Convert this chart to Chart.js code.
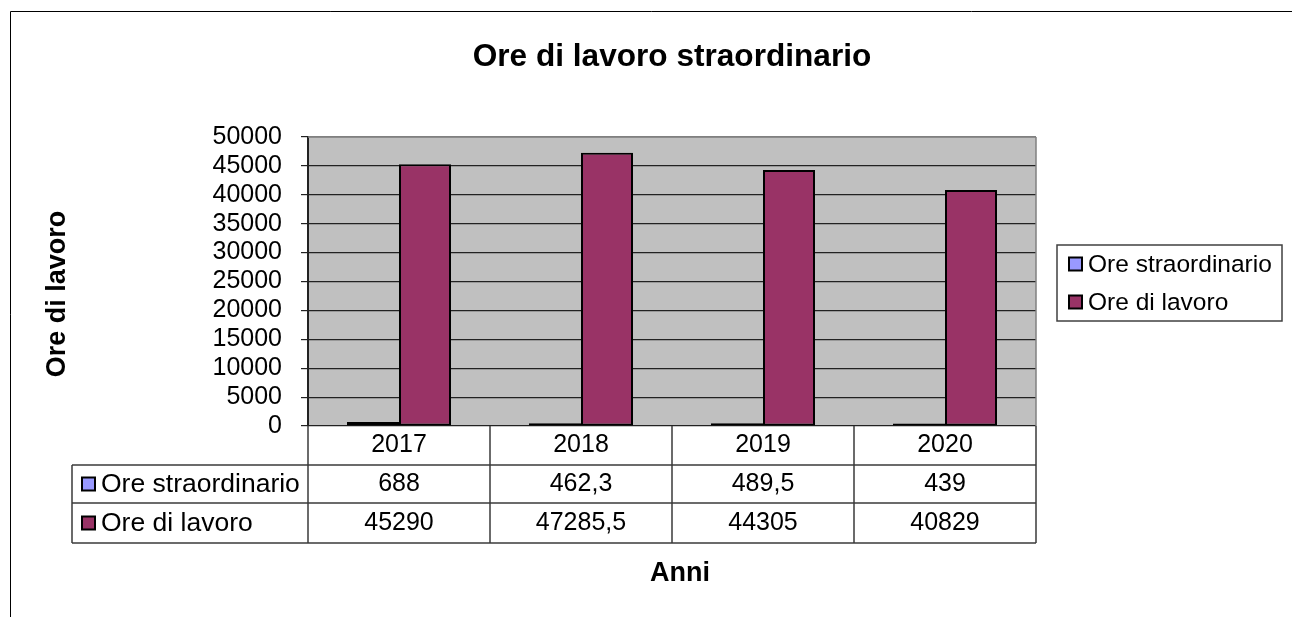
<!DOCTYPE html>
<html lang="it">
<head>
<meta charset="utf-8">
<title>Ore di lavoro straordinario</title>
<script src="https://cdn.jsdelivr.net/npm/chart.js@4.4.1/dist/chart.umd.min.js"></script>
<style>
  html, body { margin: 0; padding: 0; background: #fff; }
  canvas { display: block; }
</style>
</head>
<body>
<canvas id="grafico" width="1292" height="617"></canvas>
<script>
// ── Dati ──────────────────────────────────────────────────────────────
const anni             = ["2017", "2018", "2019", "2020"];
const oreStraordinario = [688, 462.3, 489.5, 439];
const oreLavoro        = [45290, 47285.5, 44305, 40829];
const nomiSerie        = ["Ore straordinario", "Ore di lavoro"];
const asseY            = { min: 0, max: 50000, passo: 5000 };

// ── Stile (tipo Excel 2003) ───────────────────────────────────────────
const FONT     = "'Liberation Sans', Arial, sans-serif";
const C_STRAO  = "#9999FF";
const C_LAVORO = "#993366";
const C_SFONDO = "#C0C0C0";
const C_LINEE  = "#3A3A3A";

// il numero si scrive con la virgola decimale
const fmt = v => String(v).replace(".", ",");

function riquadro(ctx, x, y, colore) {
  ctx.fillStyle = colore;
  ctx.fillRect(x, y, 13, 13);
  ctx.strokeStyle = "#000";
  ctx.lineWidth = 2;
  ctx.strokeRect(x, y, 13, 13);
}

function linea(ctx, x1, y1, x2, y2) {
  ctx.beginPath();
  ctx.moveTo(x1, y1);
  ctx.lineTo(x2, y2);
  ctx.stroke();
}

// ── Plugin: sfondo area del grafico, cornici, titoli, tabella, legenda ─
const decorazioni = {
  id: "decorazioni",
  beforeDraw(chart) {
    const { ctx, chartArea: a } = chart;
    ctx.save();
    ctx.fillStyle = C_SFONDO;
    ctx.fillRect(a.left, a.top, a.right - a.left, a.bottom - a.top);
    ctx.restore();
  },
  beforeDatasetsDraw(chart) {
    const { ctx, chartArea: a } = chart;
    ctx.save();
    ctx.strokeStyle = "#808080";
    ctx.lineWidth = 1.5;
    linea(ctx, a.left, a.top, a.right, a.top);
    linea(ctx, a.right, a.top, a.right, a.bottom);
    ctx.restore();
  },
  afterDraw(chart) {
    const { ctx, chartArea: a } = chart;
    const x = chart.scales.x;
    ctx.save();

    // cornice esterna
    ctx.strokeStyle = "#000";
    ctx.lineWidth = 1;
    linea(ctx, 10.5, 11.5, 1292, 11.5);
    linea(ctx, 10.5, 11.5, 10.5, 617);

    // titolo
    ctx.fillStyle = "#000";
    ctx.textAlign = "center";
    ctx.textBaseline = "middle";
    ctx.font = `bold 31.6px ${FONT}`;
    ctx.fillText("Ore di lavoro straordinario", (a.left + a.right) / 2, 57);

    // titolo asse Y
    ctx.save();
    ctx.translate(58, 294);
    ctx.rotate(-Math.PI / 2);
    ctx.font = `bold 27px ${FONT}`;
    ctx.fillText("Ore di lavoro", 0, 0);
    ctx.restore();

    // titolo asse X
    ctx.font = `bold 27px ${FONT}`;
    ctx.fillText("Anni", 680, 574);

    // tabella dati
    const meta = (x.getPixelForValue(1) - x.getPixelForValue(0)) / 2;
    const bordi = anni.map((_, i) => x.getPixelForValue(i) - meta);
    bordi.push(x.getPixelForValue(anni.length - 1) + meta);
    const sinistra = 72;
    const righe = [a.bottom, 465, 503, 543];

    ctx.strokeStyle = C_LINEE;
    ctx.lineWidth = 1.5;
    for (let r = 1; r < righe.length; r++) linea(ctx, sinistra, righe[r], bordi[bordi.length - 1], righe[r]);
    linea(ctx, sinistra, righe[1], sinistra, righe[3]);
    bordi.forEach(b => linea(ctx, b, righe[0], b, righe[3]));

    ctx.fillStyle = "#000";
    ctx.font = `25px ${FONT}`;
    ctx.textAlign = "center";
    anni.forEach((anno, i) => {
      const cx = x.getPixelForValue(i);
      ctx.fillText(anno, cx, 445);
      ctx.fillText(fmt(oreStraordinario[i]), cx, 484);
      ctx.fillText(fmt(oreLavoro[i]), cx, 523);
    });

    const colori = [C_STRAO, C_LAVORO];
    const yRighe = [484, 523];
    ctx.textAlign = "left";
    nomiSerie.forEach((nome, k) => {
      riquadro(ctx, 82, yRighe[k] - 6.5, colori[k]);
      ctx.fillStyle = "#000";
      ctx.font = `26.5px ${FONT}`;
      ctx.fillText(nome, 101, yRighe[k] + 1);
    });

    // legenda
    ctx.strokeStyle = "#404040";
    ctx.lineWidth = 1.5;
    ctx.strokeRect(1057, 245, 225, 76);
    const yLeg = [264, 302];
    nomiSerie.forEach((nome, k) => {
      riquadro(ctx, 1069, yLeg[k] - 6.5, colori[k]);
      ctx.fillStyle = "#000";
      ctx.font = `24.5px ${FONT}`;
      ctx.fillText(nome, 1088, yLeg[k] + 1);
    });

    ctx.restore();
  },
};

// ── Grafico ───────────────────────────────────────────────────────────
new Chart(document.getElementById("grafico"), {
  type: "bar",
  data: {
    labels: anni,
    datasets: [
      { label: nomiSerie[0], data: oreStraordinario, backgroundColor: C_STRAO,
        borderColor: "#000", borderWidth: 2, borderSkipped: false },
      { label: nomiSerie[1], data: oreLavoro, backgroundColor: C_LAVORO,
        borderColor: "#000", borderWidth: 2, borderSkipped: false },
    ],
  },
  options: {
    responsive: false,
    animation: false,
    devicePixelRatio: 1,
    layout: { padding: { top: 137, right: 256, bottom: 191, left: 0 } },
    datasets: { bar: { categoryPercentage: 4 / 7, barPercentage: 1 } },
    plugins: { legend: { display: false }, title: { display: false }, tooltip: { enabled: false } },
    scales: {
      x: { display: false },
      y: {
        min: asseY.min, max: asseY.max,
        afterFit: s => { s.width = 308; },
        ticks: { stepSize: asseY.passo, autoSkip: false, color: "#000", padding: 19,
                 callback: v => String(v),
                 font: { family: FONT, size: 25, lineHeight: 1 } },
        grid: {
          color: c => (c.tick && c.tick.value === asseY.max ? "#808080" : "#222"),
          tickColor: "#222", lineWidth: 1.2, tickLength: 7,
        },
        border: { display: true, color: "#222", width: 2 },
      },
    },
  },
  plugins: [decorazioni],
});
</script>
</body>
</html>
